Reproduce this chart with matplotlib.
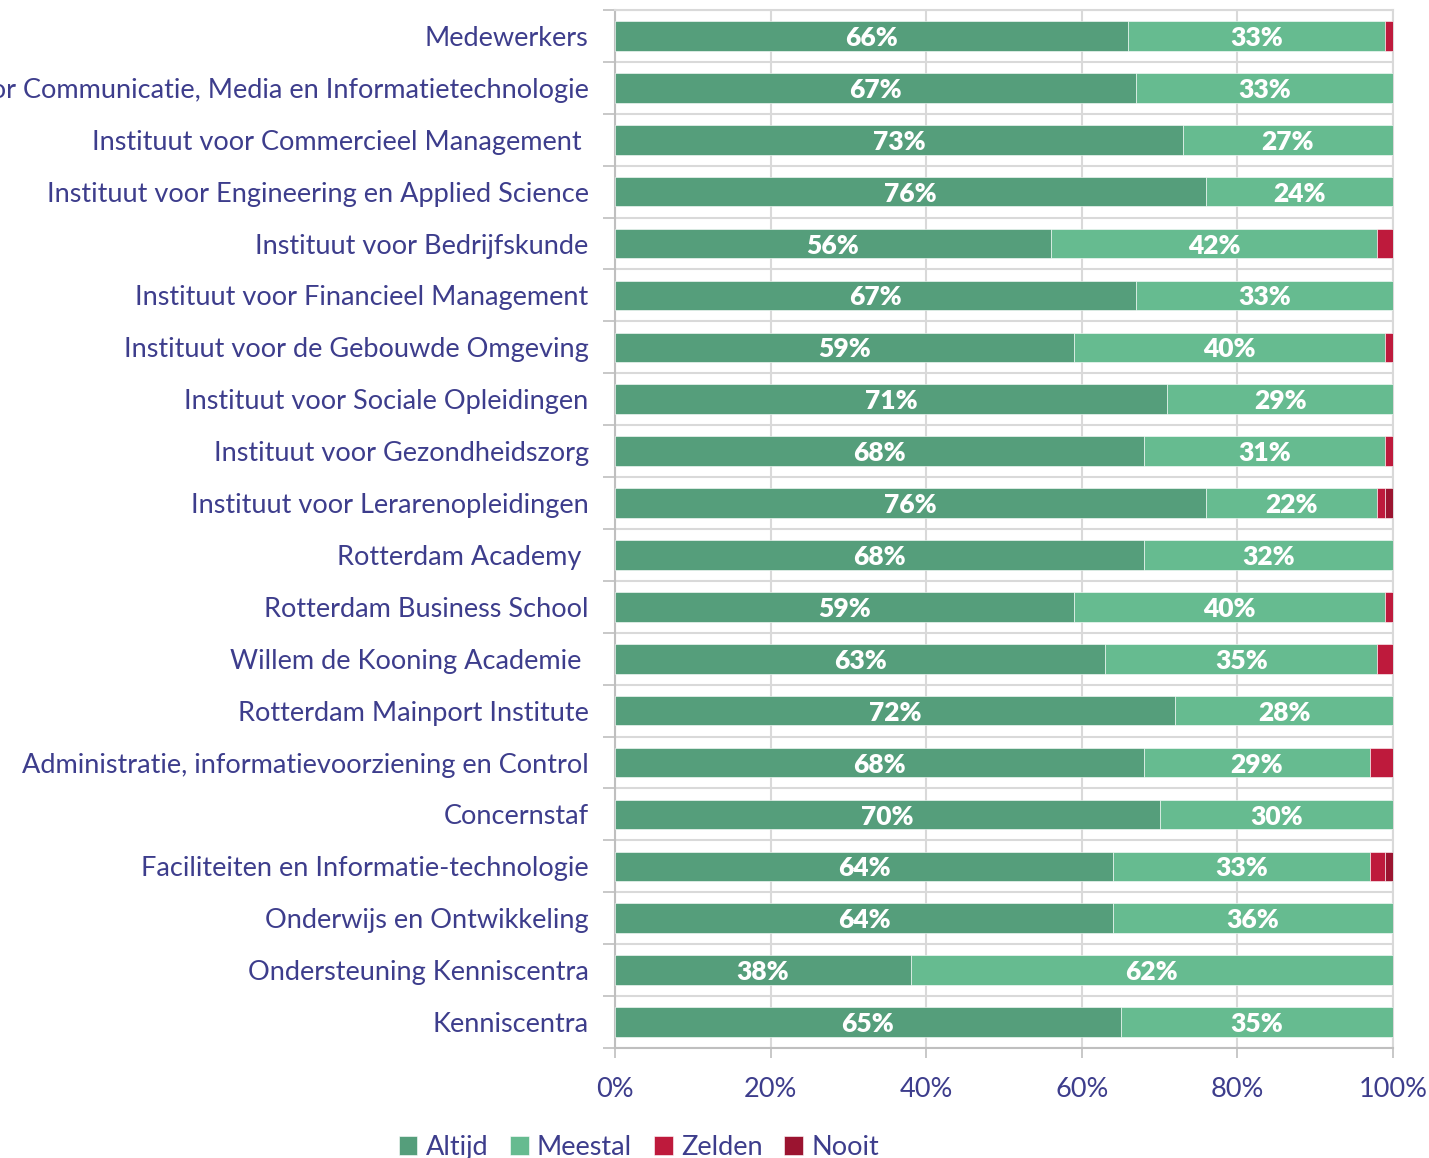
import matplotlib.pyplot as plt
import numpy as np

plt.rcParams['font.family'] = ['Lato', 'DejaVu Sans']

# data
categories = [
    "Medewerkers",
    "Instituut voor Communicatie, Media en Informatietechnologie",
    "Instituut voor Commercieel Management ",
    "Instituut voor Engineering en Applied Science",
    "Instituut voor Bedrijfskunde",
    "Instituut voor Financieel Management",
    "Instituut voor de Gebouwde Omgeving",
    "Instituut voor Sociale Opleidingen",
    "Instituut voor Gezondheidszorg",
    "Instituut voor Lerarenopleidingen",
    "Rotterdam Academy ",
    "Rotterdam Business School",
    "Willem de Kooning Academie ",
    "Rotterdam Mainport Institute",
    "Administratie, informatievoorziening en Control",
    "Concernstaf",
    "Faciliteiten en Informatie-technologie",
    "Onderwijs en Ontwikkeling",
    "Ondersteuning Kenniscentra",
    "Kenniscentra",
]
altijd = [66, 67, 73, 76, 56, 67, 59, 71, 68, 76, 68, 59, 63, 72, 68, 70, 64, 64, 38, 65]
meestal = [33, 33, 27, 24, 42, 33, 40, 29, 31, 22, 32, 40, 35, 28, 29, 30, 33, 36, 62, 35]
zelden = [1, 0, 0, 0, 2, 0, 1, 0, 1, 1, 0, 1, 2, 0, 3, 0, 2, 0, 0, 0]
nooit = [0, 0, 0, 0, 0, 0, 0, 0, 0, 1, 0, 0, 0, 0, 0, 0, 1, 0, 0, 0]

series_names = ["Altijd", "Meestal", "Zelden", "Nooit"]
series_colors = ["#559e7b", "#66bb90", "#be1a3c", "#9b1430"]
text_color = "#3d3d8c"
grid_color = "#d9d9d9"

fig = plt.figure(figsize=(14.29, 11.58), dpi=100)
ax = fig.add_axes([0.4304, 0.095, 0.5444, 0.8964])

y = np.arange(len(categories))
left = np.zeros(len(categories))
handles = []
for i, (name, vals) in enumerate(zip(series_names, [altijd, meestal, zelden, nooit])):
    vals = np.array(vals, dtype=float)
    h = ax.barh(y, vals, left=left, height=0.57, color=series_colors[i],
                edgecolor="white", linewidth=0.4, label=name, zorder=3)
    handles.append(h)
    if i < 2:
        for yi, l, v in zip(y, left, vals):
            if v > 0:
                ax.text(l + v / 2, yi + 0.04, "%d%%" % v, ha="center", va="center",
                        color="white", fontsize=19, fontweight="heavy", zorder=4)
    left += vals

ax.set_xlim(0, 100)
ax.set_ylim(len(categories) - 0.5, -0.5)
ax.set_xticks(np.arange(0, 101, 20))
ax.set_xticklabels(["%d%%" % v for v in range(0, 101, 20)])
ax.set_yticks(y)
ax.set_yticklabels(categories)
ax.set_yticks(np.arange(-0.5, len(categories), 1), minor=True)

ax.tick_params(axis="y", which="major", length=0, pad=19, labelsize=19.5, labelcolor=text_color)
ax.tick_params(axis="y", which="minor", length=9, width=1.2, color="#bfbfbf", direction="out")
ax.tick_params(axis="x", which="major", length=7, width=1.2, color="#bfbfbf", direction="out",
               pad=14, labelsize=19.5, labelcolor=text_color)

ax.grid(axis="y", which="minor", color=grid_color, linewidth=1.5, zorder=0)
ax.grid(axis="x", which="major", color=grid_color, linewidth=1.5, zorder=0)
ax.set_axisbelow(True)

for side in ["left", "bottom"]:
    ax.spines[side].set_color("#bfbfbf")
    ax.spines[side].set_linewidth(1.5)
for side in ["top", "right"]:
    ax.spines[side].set_color(grid_color)
    ax.spines[side].set_linewidth(1.5)

leg = fig.legend(handles=handles, labels=series_names, loc="lower center",
                 bbox_to_anchor=(0.447, -0.023), ncol=4, frameon=False,
                 fontsize=19.5, handlelength=0.7, handleheight=0.7,
                 handletextpad=0.3, columnspacing=0.8)
for t in leg.get_texts():
    t.set_color(text_color)

fig.savefig("out.png", dpi=100)
